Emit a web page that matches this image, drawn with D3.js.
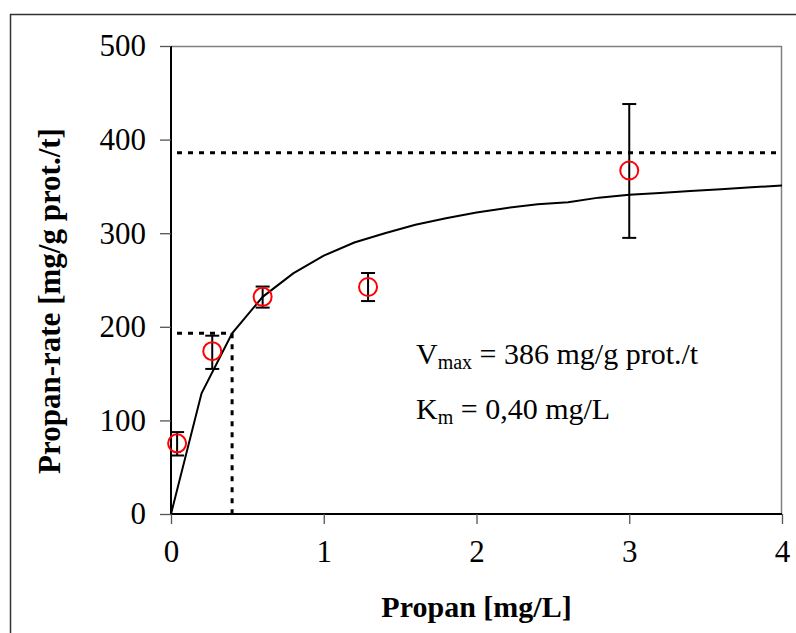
<!DOCTYPE html>
<html>
<head>
<meta charset="utf-8">
<script src="https://cdn.jsdelivr.net/npm/d3@7"></script>
<style>
  body { margin: 0; background: #fff; }
  text { font-family: "Liberation Serif", "Times New Roman", serif; fill: #000; }
</style>
</head>
<body>
<svg id="chart"></svg>
<script>
// measured points
const conc = [0.04, 0.27, 0.6, 1.29, 3.0];
const rate = [75.5, 174, 232, 242.5, 367];
const errLow = [62.5, 155, 220.5, 227.5, 295];
const errHigh = [87.5, 190.5, 243, 257.5, 438];

// fitted curve as drawn
const fitX = [0, 0.2, 0.4, 0.6, 0.8, 1.0, 1.2, 1.4, 1.6, 1.8, 2.0, 2.2, 2.4, 2.6, 2.8, 3.0, 3.2, 3.4, 3.6, 3.8, 4.0];
const fitY = [0, 129, 193, 232, 257, 276, 290, 300, 309, 316, 322, 327, 331, 333, 338, 341, 343, 345, 347, 349, 351];

const vmax = 386, km = 0.40;
const xTicks = [0, 1, 2, 3, 4];
const yTicks = [0, 100, 200, 300, 400, 500];

const W = 796, H = 633;
const margin = {top: 46, right: 14, bottom: 119, left: 171},
  width = W - margin.left - margin.right,
  height = H - margin.top - margin.bottom;

const svg = d3.select('#chart').attr('width', W).attr('height', H);

// outer frame (only left/top visible)
svg.append('rect')
  .attr('x', 10.5).attr('y', 14.5)
  .attr('width', 900).attr('height', 800)
  .attr('fill', 'none').attr('stroke', '#333').attr('stroke-width', 1.5);

const x = d3.scaleLinear().domain([0, 4]).range([0, width]);
const y = d3.scaleLinear().domain([0, 500]).range([height, 0]);

const chart = svg.append('g')
  .attr('transform', `translate(${margin.left}, ${margin.top})`);

// plot box top/right in gray
chart.append('path')
  .attr('d', `M0,0.5H${width - 0.5}V${height}`)
  .attr('fill', 'none').attr('stroke', '#808080').attr('stroke-width', 1.5);

const xAxis = chart.append('g')
  .attr('transform', `translate(0,${height})`)
  .call(d3.axisBottom(x).tickValues(xTicks).tickSize(10).tickPadding(16).tickFormat(d3.format('d')));
const yAxis = chart.append('g')
  .call(d3.axisLeft(y).tickValues(yTicks).tickSize(11).tickPadding(14));

[xAxis, yAxis].forEach(a => {
  a.select('.domain').attr('stroke', '#000').attr('stroke-width', 2);
  a.selectAll('.tick line').attr('stroke', '#555').attr('stroke-width', 1.3);
  a.selectAll('.tick text')
    .style('font-family', '"Liberation Serif", serif')
    .style('font-size', '31px').attr('fill', '#000');
});
xAxis.select('.domain').attr('d', `M0,0H${width}`);
yAxis.select('.domain').attr('d', `M0,${height}V0`);

// dotted guide lines: Vmax and Km
const dash = '5,6';
chart.append('line')
  .attr('x1', x(0) + 6).attr('x2', x(4) - 6)
  .attr('y1', y(vmax)).attr('y2', y(vmax))
  .attr('stroke', '#000').attr('stroke-width', 3).attr('stroke-dasharray', dash);
chart.append('line')
  .attr('x1', x(0) + 6).attr('x2', x(km))
  .attr('y1', y(vmax / 2)).attr('y2', y(vmax / 2))
  .attr('stroke', '#000').attr('stroke-width', 3).attr('stroke-dasharray', dash);
chart.append('line')
  .attr('x1', x(km)).attr('x2', x(km))
  .attr('y1', y(vmax / 2)).attr('y2', y(0))
  .attr('stroke', '#000').attr('stroke-width', 3).attr('stroke-dasharray', dash);

// fit curve
const line = d3.line().x((d, i) => x(fitX[i])).y(d => y(d));
chart.append('path')
  .datum(fitY)
  .attr('d', line)
  .attr('fill', 'none').attr('stroke', '#000').attr('stroke-width', 2);

// error bars
const pts = conc.map((c, i) => ({c, r: rate[i], lo: errLow[i], hi: errHigh[i]}));
const eb = chart.selectAll('.eb').data(pts).enter().append('g').attr('class', 'eb')
  .attr('stroke', '#000').attr('stroke-width', 2);
eb.append('line').attr('x1', d => x(d.c)).attr('x2', d => x(d.c))
  .attr('y1', d => y(d.lo)).attr('y2', d => y(d.hi));
eb.append('line').attr('x1', d => x(d.c) - 7).attr('x2', d => x(d.c) + 7)
  .attr('y1', d => y(d.lo)).attr('y2', d => y(d.lo));
eb.append('line').attr('x1', d => x(d.c) - 7).attr('x2', d => x(d.c) + 7)
  .attr('y1', d => y(d.hi)).attr('y2', d => y(d.hi));

chart.selectAll('.circle')
  .data(pts)
  .enter().append('circle')
  .attr('class', 'circle')
  .attr('cx', d => x(d.c))
  .attr('cy', d => y(d.r))
  .attr('r', 9)
  .attr('fill', 'none').attr('stroke', '#ff0000').attr('stroke-width', 2);

// annotations
const t1 = svg.append('text').attr('x', 416).attr('y', 364).style('font-size', '30px');
t1.append('tspan').text('V');
t1.append('tspan').attr('dy', 5).style('font-size', '20px').text('max');
t1.append('tspan').attr('dy', -5).text(' = 386 mg/g prot./t');

const t2 = svg.append('text').attr('x', 416).attr('y', 419).style('font-size', '30px');
t2.append('tspan').text('K');
t2.append('tspan').attr('dy', 5).style('font-size', '20px').text('m');
t2.append('tspan').attr('dy', -5).text(' = 0,40 mg/L');

// axis titles
svg.append('text')
  .attr('x', margin.left + width / 2).attr('y', 617)
  .attr('text-anchor', 'middle')
  .style('font-size', '30px').style('font-weight', 'bold')
  .text('Propan [mg/L]');

svg.append('text')
  .attr('transform', `translate(60,${margin.top + height / 2 + 21}) rotate(-90)`)
  .attr('text-anchor', 'middle')
  .style('font-size', '31px').style('font-weight', 'bold')
  .text('Propan-rate [mg/g prot./t]');
</script>
</body>
</html>
